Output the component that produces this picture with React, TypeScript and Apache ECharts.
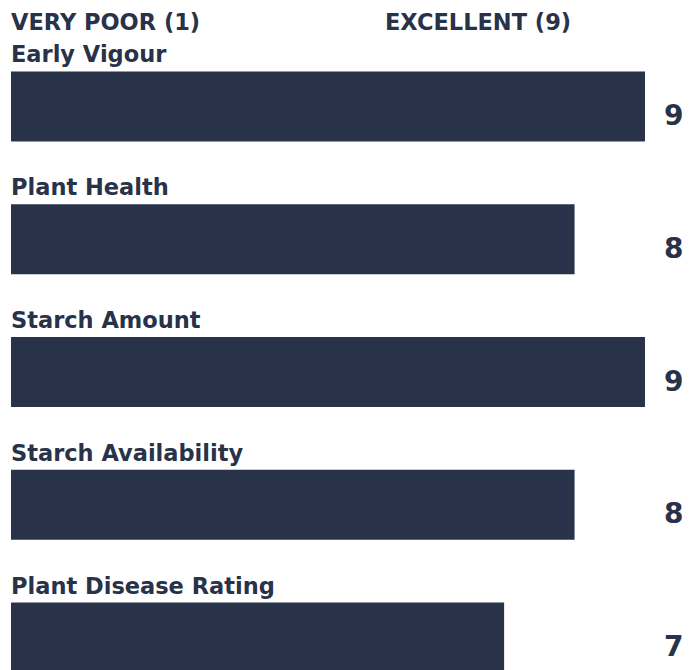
import React, { useEffect, useRef } from "react";
import * as echarts from "echarts";

const categories = [
  "Early Vigour",
  "Plant Health",
  "Starch Amount",
  "Starch Availability",
  "Plant Disease Rating",
];
const scores = [9, 8, 9, 8, 7];
const scaleLabels = ["VERY POOR (1)", "EXCELLENT (9)"];
const scaleMin = 0;
const scaleMax = 9;

const NAVY = "#283249";
const FONT = "DejaVu Sans";

export default function App() {
  const ref = useRef<HTMLDivElement>(null);
  useEffect(() => {
    document.body.style.margin = "0";
    if (!ref.current) return;
    const chart = echarts.init(ref.current, undefined, { renderer: "svg" });
    chart.setOption({
      animation: false,
      backgroundColor: "#ffffff",
      grid: { left: 11, top: 40, width: 634, height: 664 },
      xAxis: {
        type: "value",
        min: scaleMin,
        max: scaleMax,
        show: false,
      },
      yAxis: [
        {
          type: "category",
          data: categories,
          inverse: true,
          show: false,
        },
        {
          type: "category",
          data: scores.map(String),
          inverse: true,
          position: "right",
          axisLine: { show: false },
          axisTick: { show: false },
          splitLine: { show: false },
          axisLabel: {
            show: true,
            margin: 19,
            align: "left",
            verticalAlign: "top",
            lineHeight: 18,
            fontFamily: FONT,
            fontWeight: "bold",
            fontSize: 28,
            color: NAVY,
          },
        },
      ],
      graphic: [
        {
          type: "text",
          left: 11,
          top: 10,
          style: {
            text: scaleLabels[0],
            font: `bold 22.5px "${FONT}"`,
            fill: NAVY,
          },
        },
        {
          type: "text",
          left: 385,
          top: 10,
          style: {
            text: scaleLabels[1],
            font: `bold 22.5px "${FONT}"`,
            fill: NAVY,
          },
        },
      ],
      series: [
        {
          type: "bar",
          data: scores,
          barWidth: 70,
          itemStyle: { color: NAVY },
          label: {
            show: true,
            position: [0, -5.5],
            align: "left",
            verticalAlign: "bottom",
            formatter: (p: any) => p.name,
            fontFamily: FONT,
            fontWeight: "bold",
            fontSize: 22.5,
            color: NAVY,
          },
        },
      ],
    });
    return () => chart.dispose();
  }, []);
  return (
    <div style={{ width: 693, height: 670, overflow: "hidden" }}>
      <div ref={ref} style={{ width: 693, height: 704 }} />
    </div>
  );
}
